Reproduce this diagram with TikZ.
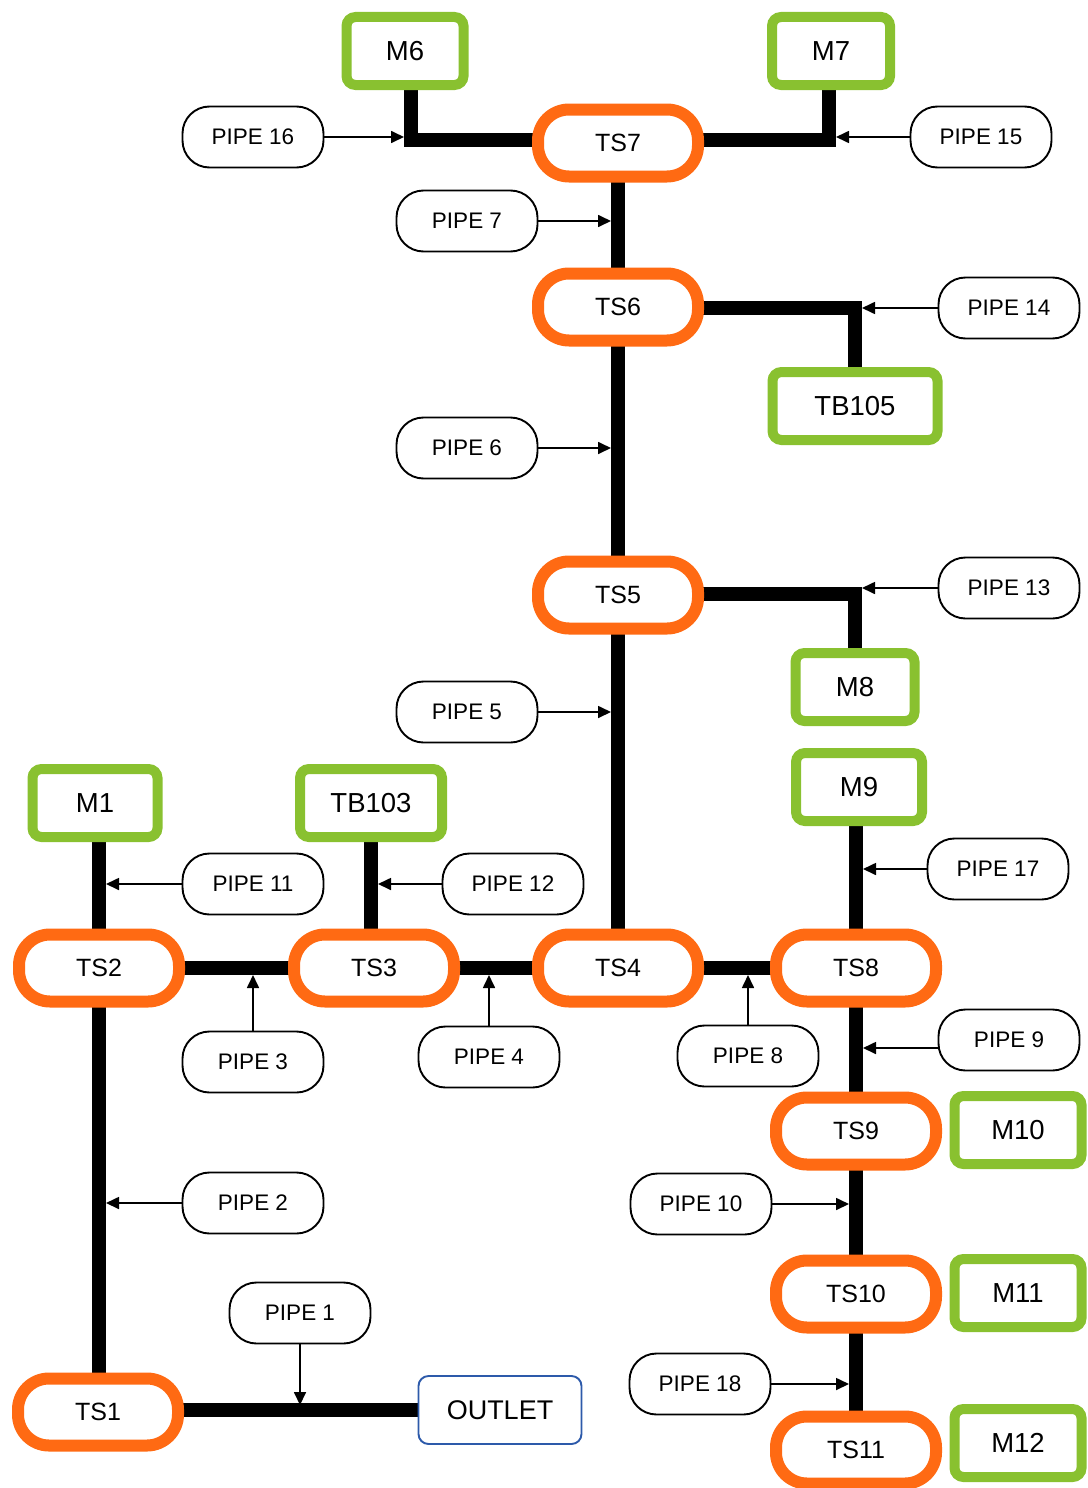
\documentclass[tikz,border=0pt]{standalone}
\usepackage{fontspec}
\setmainfont{Liberation Sans}
\usetikzlibrary{arrows.meta,calc,backgrounds}
\definecolor{tsorange}{RGB}{255,106,19}
\definecolor{mgreen}{RGB}{137,193,48}
\definecolor{outblue}{RGB}{45,90,170}
\begin{document}
\begin{tikzpicture}[x=1pt,y=-1pt,
 tsbox/.style={draw=tsorange,line width=12pt,fill=white,rounded corners=31pt,minimum width=160pt,minimum height=67pt,inner sep=0pt,font=\fontsize{25}{25}\selectfont},
 mbox/.style={draw=mgreen,line width=10pt,fill=white,rounded corners=9pt,minimum height=68pt,inner sep=0pt,font=\fontsize{27.5}{28}\selectfont},
 pipebox/.style={draw=black,line width=1.9pt,fill=white,rounded corners=27pt,minimum width=141pt,minimum height=61pt,inner sep=0pt,font=\fontsize{22.5}{23}\selectfont},
 outbox/.style={draw=outblue,line width=1.9pt,fill=white,rounded corners=10pt,minimum width=163pt,minimum height=68pt,inner sep=0pt,font=\fontsize{27}{27}\selectfont},
 mainline/.style={line width=14pt,line join=miter},
 feed/.style={line width=1.7pt,-{Triangle[length=13pt,width=12pt]}}
]
\useasboundingbox (0,0) rectangle (1087,1488);

% TS nodes
\node[tsbox] (TS7) at (618,143) {TS7};
\node[tsbox] (TS6) at (618,307) {TS6};
\node[tsbox] (TS5) at (618,595) {TS5};
\node[tsbox] (TS4) at (618,968) {TS4};
\node[tsbox] (TS3) at (374,968) {TS3};
\node[tsbox] (TS2) at (99,968) {TS2};
\node[tsbox] (TS8) at (856,968) {TS8};
\node[tsbox] (TS9) at (856,1131) {TS9};
\node[tsbox] (TS10) at (856,1294) {TS10};
\node[tsbox] (TS11) at (856,1450) {TS11};
\node[tsbox] (TS1) at (98,1412) {TS1};

% green boxes
\node[mbox,minimum width=117pt] (M6) at (405,51) {M6};
\node[mbox,minimum width=118pt] (M7) at (831,51) {M7};
\node[mbox,minimum width=165pt] (TB105) at (855,406) {TB105};
\node[mbox,minimum width=119pt] (M8) at (855,687) {M8};
\node[mbox,minimum width=126pt] (M9) at (859,787) {M9};
\node[mbox,minimum width=125pt] (M1) at (95,803) {M1};
\node[mbox,minimum width=142pt] (TB103) at (371,803) {TB103};
\node[mbox,minimum width=127pt] (M10) at (1018,1130) {M10};
\node[mbox,minimum width=127pt] (M11) at (1018,1293) {M11};
\node[mbox,minimum width=127pt] (M12) at (1018,1443) {M12};

\node[outbox] (OUT) at (500,1410) {OUTLET};

% pipes
\node[pipebox] (P16) at (253,137) {PIPE 16};
\node[pipebox] (P15) at (981,137) {PIPE 15};
\node[pipebox] (P7) at (467,221) {PIPE 7};
\node[pipebox] (P14) at (1009,308) {PIPE 14};
\node[pipebox] (P6) at (467,448) {PIPE 6};
\node[pipebox] (P13) at (1009,588) {PIPE 13};
\node[pipebox] (P5) at (467,712) {PIPE 5};
\node[pipebox] (P11) at (253,884) {PIPE 11};
\node[pipebox] (P12) at (513,884) {PIPE 12};
\node[pipebox] (P17) at (998,869) {PIPE 17};
\node[pipebox] (P3) at (253,1062) {PIPE 3};
\node[pipebox] (P4) at (489,1057) {PIPE 4};
\node[pipebox] (P8) at (748,1056) {PIPE 8};
\node[pipebox] (P9) at (1009,1040) {PIPE 9};
\node[pipebox] (P2) at (253,1203) {PIPE 2};
\node[pipebox] (P10) at (701,1204) {PIPE 10};
\node[pipebox] (P1) at (300,1313) {PIPE 1};
\node[pipebox] (P18) at (700,1384) {PIPE 18};

% junctions
\coordinate (j16) at (411,140);
\coordinate (j15) at (829,140);
\coordinate (j14) at (855,308);
\coordinate (j13) at (855,594);

\begin{scope}[on background layer]
\draw[mainline] (M6.center -| j16) -- (j16) -- (j16 -| TS7.center);
\draw[mainline] (M7.center -| j15) -- (j15) -- (j15 -| TS7.center);
\draw[mainline] (TS7.center) -- (TS6.center);
\draw[mainline] (TS6.center |- j14) -- (j14) -- (TB105.center);
\draw[mainline] (TS6.center) -- (TS5.center);
\draw[mainline] (TS5.center |- j13) -- (j13) -- (M8.center);
\draw[mainline] (TS5.center) -- (TS4.center);
\draw[mainline] (TS2.center |- M1.center) -- (TS2.center);
\draw[mainline] (TB103.center) -- (TB103.center |- TS3.center);
\draw[mainline] (TS8.center |- M9.center) -- (TS8.center);
\draw[mainline] (TS2.center) -- (TS3.center) -- (TS4.center) -- (TS8.center);
\draw[mainline] (TS8.center) -- (TS9.center) -- (TS10.center) -- (TS11.center);
\draw[mainline] (TS2.center) -- (TS2.center |- TS1.center);
\draw[mainline] (TS1.center |- OUT.center) -- (OUT.center);
\end{scope}

% feeds
\draw[feed] (P16.east) -- ($(P16.east -| j16)+(-7,0)$);
\draw[feed] (P15.west) -- ($(P15.west -| j15)+(7,0)$);
\draw[feed] (P7.east) -- ($(P7.east -| TS7.center)+(-7,0)$);
\draw[feed] (P14.west) -- ($(P14.west -| j14)+(7,0)$);
\draw[feed] (P6.east) -- ($(P6.east -| TS6.center)+(-7,0)$);
\draw[feed] (P13.west) -- ($(P13.west -| j13)+(7,0)$);
\draw[feed] (P5.east) -- ($(P5.east -| TS5.center)+(-7,0)$);
\draw[feed] (P11.west) -- ($(P11.west -| TS2.center)+(7,0)$);
\draw[feed] (P12.west) -- ($(P12.west -| TB103.center)+(7,0)$);
\draw[feed] (P17.west) -- ($(P17.west -| TS8.center)+(7,0)$);
\draw[feed] (P3.north) -- ($(P3.north |- TS2.center)+(0,7)$);
\draw[feed] (P4.north) -- ($(P4.north |- TS3.center)+(0,7)$);
\draw[feed] (P8.north) -- ($(P8.north |- TS4.center)+(0,7)$);
\draw[feed] ($(P9.west)+(0,8)$) -- ($(P9.west -| TS8.center)+(7,8)$);
\draw[feed] (P2.west) -- ($(P2.west -| TS2.center)+(7,0)$);
\draw[feed] (P10.east) -- ($(P10.east -| TS9.center)+(-7,0)$);
\draw[feed] (P18.east) -- ($(P18.east -| TS10.center)+(-7,0)$);
\draw[feed] (P1.south) -- ($(P1.south |- TS1.center)+(0,-7)$);
\end{tikzpicture}
\end{document}
